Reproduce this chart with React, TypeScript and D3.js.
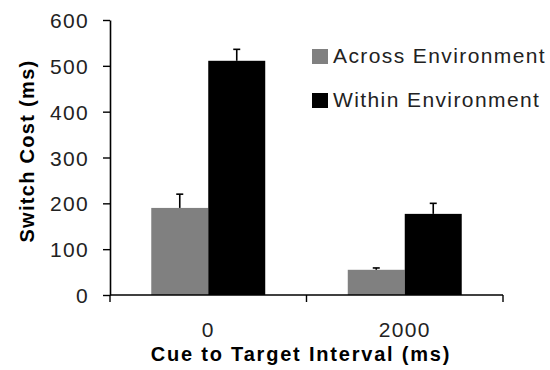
import React, { useRef, useEffect } from 'react';
import * as d3 from 'd3';

const intervals = ['0', '2000'];
const seriesNames = ['Across Environment', 'Within Environment'];
const seriesColors = ['#808080', '#000000'];
const acrossMeans = [190, 55];
const acrossErrors = [30, 4];
const withinMeans = [511, 177];
const withinErrors = [25, 23];
const yTicks = [0, 100, 200, 300, 400, 500, 600];

const App: React.FC = () => {
  const svgRef = useRef<SVGSVGElement | null>(null);
  const width = 550;
  const height = 370;

  useEffect(() => {
    const svg = d3.select(svgRef.current);
    svg.selectAll('*').remove();

    const left = 110, right = 503, top = 20, bottom = 295;
    const font = 'Arial, "Liberation Sans", sans-serif';

    const x = d3.scaleBand<string>().domain(intervals).range([left, right]);
    const inner = d3.scaleBand<number>().domain([0, 1]).range([0, x.bandwidth() * 0.58]);
    const y = d3.scaleLinear().domain([0, 600]).range([bottom, top]);

    const series = [
      { means: acrossMeans, errs: acrossErrors },
      { means: withinMeans, errs: withinErrors },
    ];

    const groupOffset = x.bandwidth() * 0.21;

    series.forEach((s, si) => {
      intervals.forEach((c, ci) => {
        const bx = (x(c) as number) + groupOffset + (inner(si) as number);
        const bw = inner.bandwidth();
        const cx = bx + bw / 2;
        svg.append('rect')
          .attr('x', bx).attr('y', y(s.means[ci]))
          .attr('width', bw).attr('height', y(0) - y(s.means[ci]))
          .attr('fill', seriesColors[si]);
        const eTop = y(s.means[ci] + s.errs[ci]);
        svg.append('line')
          .attr('x1', cx).attr('x2', cx)
          .attr('y1', y(s.means[ci])).attr('y2', eTop)
          .attr('stroke', '#000').attr('stroke-width', 1.6);
        svg.append('line')
          .attr('x1', cx - 3.5).attr('x2', cx + 3.5)
          .attr('y1', eTop).attr('y2', eTop)
          .attr('stroke', '#000').attr('stroke-width', 1.6);
      });
    });

    // y axis
    const yAxis = svg.append('g')
      .attr('transform', `translate(${left},0)`)
      .call(d3.axisLeft(y).tickValues(yTicks).tickSize(7).tickPadding(14).tickSizeOuter(0));
    yAxis.select('.domain').attr('stroke', '#000').attr('stroke-width', 1.6);
    yAxis.selectAll('.tick line').attr('stroke', '#000').attr('stroke-width', 1.4);
    yAxis.selectAll('.tick text')
      .attr('font-family', font).attr('font-size', 21).attr('fill', '#222')
      .attr('letter-spacing', 1.3).attr('dy', '0.36em');

    // x axis line with ticks between categories
    const boundaries = [left, (x(intervals[1]) as number), right];
    svg.append('line')
      .attr('x1', left).attr('x2', right).attr('y1', bottom).attr('y2', bottom)
      .attr('stroke', '#000').attr('stroke-width', 1.6);
    boundaries.forEach(b => {
      svg.append('line')
        .attr('x1', b).attr('x2', b).attr('y1', bottom).attr('y2', bottom + 7)
        .attr('stroke', '#000').attr('stroke-width', 1.4);
    });
    intervals.forEach(c => {
      svg.append('text')
        .attr('x', (x(c) as number) + x.bandwidth() / 2)
        .attr('y', 337)
        .attr('text-anchor', 'middle')
        .attr('font-family', font).attr('font-size', 21).attr('fill', '#222')
        .attr('letter-spacing', 1.3)
        .text(c);
    });

    // axis titles
    svg.append('text')
      .attr('x', 301).attr('y', 361)
      .attr('text-anchor', 'middle')
      .attr('font-family', font).attr('font-size', 20).attr('font-weight', 'bold')
      .attr('letter-spacing', 1.8)
      .text('Cue to Target Interval (ms)');
    svg.append('text')
      .attr('transform', 'translate(34,151) rotate(-90)')
      .attr('text-anchor', 'middle')
      .attr('font-family', font).attr('font-size', 20).attr('font-weight', 'bold')
      .attr('letter-spacing', 1.3)
      .text('Switch Cost (ms)');

    // legend
    seriesNames.forEach((n, i) => {
      const ly = 49 + i * 44;
      svg.append('rect')
        .attr('x', 312).attr('y', ly).attr('width', 16).attr('height', 15)
        .attr('fill', seriesColors[i]);
      svg.append('text')
        .attr('x', 333).attr('y', ly + 14)
        .attr('font-family', font).attr('font-size', 21).attr('fill', '#222')
        .attr('letter-spacing', 1.4)
        .text(n);
    });
  }, []);

  return (
    <svg ref={svgRef} width={width} height={height}
      style={{ position: 'absolute', left: 0, top: 0, background: '#fff' }} />
  );
};

export default App;
